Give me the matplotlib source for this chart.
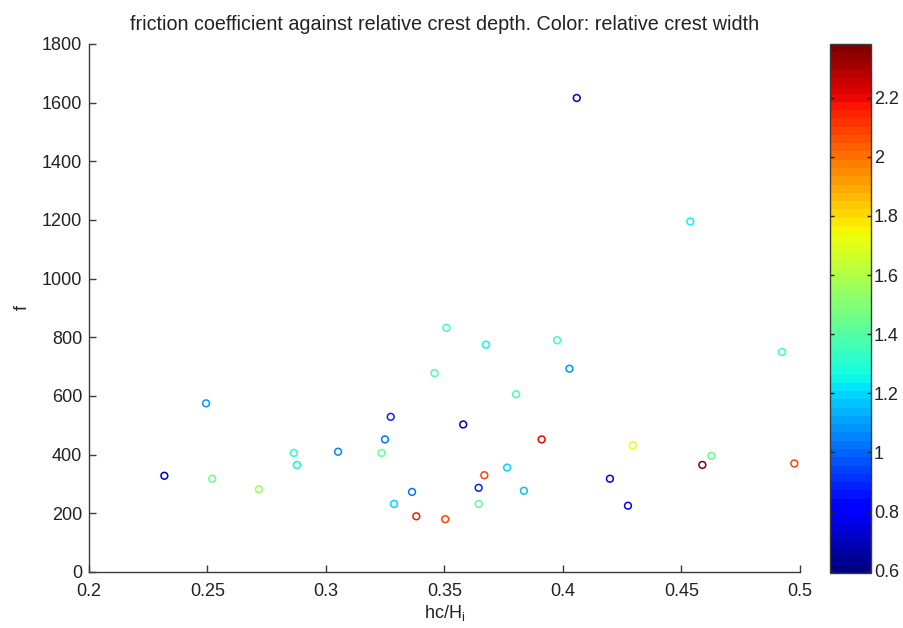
import numpy as np
import matplotlib
matplotlib.use("Agg")
from matplotlib import pyplot as plt
from matplotlib.colors import Normalize
from matplotlib.cm import ScalarMappable
from matplotlib.ticker import FormatStrFormatter

plt.rcParams['font.family'] = ['Liberation Sans', 'DejaVu Sans']

# hc/Hi, f, relative crest width
hc_hi = [0.2318, 0.2494, 0.2520, 0.2717, 0.2864, 0.2877,
         0.3051, 0.3234, 0.3249, 0.3273, 0.3287, 0.3363, 0.3381,
         0.3458, 0.3503, 0.3508, 0.3579, 0.3644, 0.3644, 0.3668,
         0.3675, 0.3764, 0.3802, 0.3835, 0.3910, 0.3975, 0.4027,
         0.4058, 0.4198, 0.4274, 0.4294, 0.4537, 0.4588, 0.4626,
         0.4924, 0.4976]
f_vals = [328, 575, 318, 282, 406, 365,
          410, 406, 452, 529, 232, 273, 190,
          678, 180, 832, 503, 287, 232, 330,
          775, 356, 606, 277, 452, 790, 693,
          1616, 318, 226, 432, 1195, 365, 396,
          750, 370]
width = [0.70, 1.07, 1.45, 1.57, 1.32, 1.26,
         1.04, 1.44, 1.03, 0.89, 1.18, 1.02, 2.18,
         1.38, 2.10, 1.32, 0.70, 0.88, 1.42, 2.09,
         1.26, 1.19, 1.38, 1.16, 2.19, 1.32, 1.07,
         0.70, 0.81, 0.80, 1.72, 1.24, 2.36, 1.44,
         1.37, 2.09]

cmin, cmax = 0.592, 2.382
cmap = plt.get_cmap('jet', 64)
norm = Normalize(vmin=cmin, vmax=cmax)
colors = cmap(norm(np.array(width)))

fig = plt.figure(figsize=(9.04, 6.28), dpi=100)
ax = fig.add_axes([89 / 904, 56 / 628, 711 / 904, 528 / 628])
cax = fig.add_axes([830 / 904, 55 / 628, 41 / 904, 529 / 628])

ax.scatter(hc_hi, f_vals, s=24, facecolors='none', edgecolors=colors, linewidths=1.1)

ax.set_xlim(0.2, 0.5)
ax.set_ylim(0, 1800)
ax.set_xticks(np.arange(0.2, 0.501, 0.05))
ax.set_yticks(np.arange(0, 1801, 200))
ax.xaxis.set_major_formatter(FormatStrFormatter('%g'))
for s in ['top', 'right']:
    ax.spines[s].set_visible(False)
for s in ['left', 'bottom']:
    ax.spines[s].set_color('#3a3a3a')
    ax.spines[s].set_linewidth(1.0)
ax.tick_params(direction='in', length=5, width=1.0, color='#3a3a3a',
               labelsize=13, labelcolor='#222222')
ax.tick_params(axis='x', pad=8)
ax.tick_params(axis='y', pad=5)

ax.set_title('friction coefficient against relative crest depth. Color: relative crest width',
             fontsize=14.2, color='#222222', pad=10)
ax.set_xlabel('hc/H$_\\mathregular{i}$', fontsize=13, color='#222222', labelpad=2)
ax.set_ylabel('f', fontsize=13, color='#222222', labelpad=8)

sm = ScalarMappable(norm=norm, cmap=cmap)
cb = fig.colorbar(sm, cax=cax)
cb.set_ticks(np.arange(0.6, 2.21, 0.2))
cb.ax.yaxis.set_major_formatter(FormatStrFormatter('%g'))
cb.outline.set_edgecolor('#3a3a3a')
cb.outline.set_linewidth(1.0)
cax.tick_params(direction='in', length=3, width=1.0, color='#222222',
                labelsize=13, labelcolor='#222222', left=True, right=True, pad=2)

fig.savefig('out.png', dpi=100)
